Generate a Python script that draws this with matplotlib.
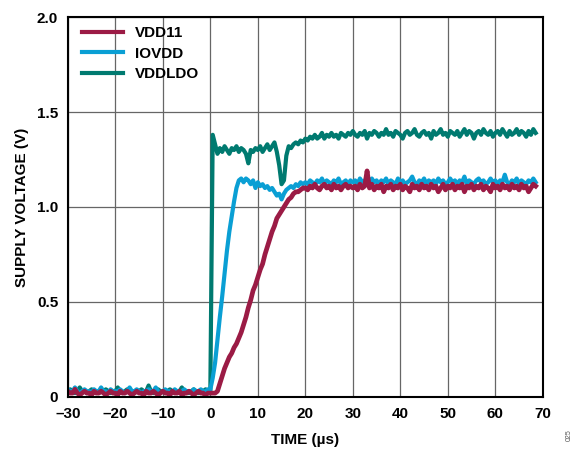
import numpy as np
import matplotlib
matplotlib.use("Agg")
import matplotlib.pyplot as plt

# sample times, 0.5 us steps from -30 to 68.5
time_us = np.arange(-30, 69, 0.5)

# VDDLDO (teal)
vddldo = [
    # -30 .. -0.5
    0.03, 0.04, 0.03, 0.02, 0.03, 0.05, 0.03, 0.03, 0.02, 0.03,
    0.04, 0.03, 0.03, 0.02, 0.03, 0.03, 0.04, 0.03, 0.02, 0.03,
    0.03, 0.05, 0.03, 0.02, 0.03, 0.04, 0.03, 0.03, 0.02, 0.03,
    0.03, 0.04, 0.03, 0.03, 0.06, 0.03, 0.02, 0.03, 0.04, 0.03,
    0.03, 0.02, 0.03, 0.04, 0.03, 0.03, 0.02, 0.03, 0.05, 0.03,
    0.03, 0.02, 0.03, 0.04, 0.03, 0.02, 0.03, 0.03, 0.04, 0.03,
    # 0 .. 20
    0.03, 1.38, 1.33, 1.28, 1.31, 1.29, 1.32, 1.30, 1.28, 1.31,
    1.30, 1.32, 1.29, 1.31, 1.30, 1.28, 1.23, 1.30, 1.29, 1.31,
    1.30, 1.32, 1.29, 1.31, 1.33, 1.30, 1.32, 1.34, 1.29, 1.22,
    1.12, 1.14, 1.27, 1.32, 1.31, 1.33, 1.34, 1.33, 1.35, 1.34,
    1.36,
    # 20.5 .. 30
    1.35, 1.37, 1.36, 1.38, 1.36, 1.37, 1.39, 1.36, 1.38, 1.37,
    1.39, 1.37, 1.38, 1.36, 1.39, 1.38, 1.37, 1.39, 1.38, 1.40,
    # 30.5 .. 68.5
    1.38, 1.37, 1.39, 1.38, 1.40, 1.36, 1.39, 1.38, 1.40, 1.39,
    1.37, 1.39, 1.38, 1.41, 1.38, 1.39, 1.37, 1.40, 1.39, 1.38,
    1.36, 1.39, 1.40, 1.38, 1.39, 1.41, 1.38, 1.37, 1.39, 1.40,
    1.38, 1.39, 1.36, 1.40, 1.38, 1.39, 1.41, 1.38, 1.39, 1.37,
    1.40, 1.39, 1.38, 1.40, 1.37, 1.39, 1.41, 1.38, 1.40, 1.39,
    1.36, 1.39, 1.40, 1.38, 1.41, 1.39, 1.38, 1.40, 1.37, 1.39,
    1.40, 1.38, 1.41, 1.39, 1.37, 1.40, 1.38, 1.39, 1.41, 1.38,
    1.40, 1.39, 1.37, 1.40, 1.38, 1.41, 1.39,
]

# IOVDD (blue)
iovdd = [
    0.04, 0.03, 0.03, 0.05, 0.03, 0.02, 0.03, 0.04, 0.03, 0.03,
    0.02, 0.04, 0.03, 0.03, 0.05, 0.03, 0.03, 0.02, 0.04, 0.03,
    0.03, 0.03, 0.04, 0.03, 0.02, 0.03, 0.05, 0.03, 0.03, 0.04,
    0.03, 0.02, 0.03, 0.03, 0.04, 0.03, 0.03, 0.05, 0.03, 0.02,
    0.03, 0.04, 0.03, 0.03, 0.02, 0.04, 0.03, 0.03, 0.03, 0.04,
    0.03, 0.03, 0.02, 0.04, 0.03, 0.03, 0.04, 0.03, 0.03, 0.04,
    0.04, 0.10, 0.18, 0.30, 0.42, 0.53, 0.65, 0.77, 0.87, 0.95,
    1.03, 1.10, 1.14, 1.15, 1.13, 1.15, 1.14, 1.12, 1.14, 1.10,
    1.13, 1.11, 1.12, 1.10, 1.11, 1.09, 1.10, 1.08, 1.06, 1.07,
    1.04, 1.07, 1.09, 1.10, 1.11, 1.10, 1.12, 1.11, 1.13, 1.12,
    1.13,
    1.12, 1.14, 1.13, 1.12, 1.14, 1.13, 1.15, 1.12, 1.14, 1.13,
    1.12, 1.14, 1.13, 1.15, 1.12, 1.13, 1.14, 1.12, 1.14, 1.13,
    1.14, 1.12, 1.15, 1.13, 1.14, 1.12, 1.13, 1.15, 1.13, 1.14,
    1.12, 1.14, 1.13, 1.15, 1.12, 1.14, 1.13, 1.12, 1.15, 1.13,
    1.14, 1.12, 1.13, 1.14, 1.16, 1.13, 1.12, 1.14, 1.13, 1.15,
    1.12, 1.14, 1.13, 1.14, 1.12, 1.15, 1.13, 1.14, 1.12, 1.13,
    1.15, 1.13, 1.14, 1.12, 1.14, 1.13, 1.16, 1.12, 1.14, 1.13,
    1.12, 1.14, 1.15, 1.13, 1.14, 1.12, 1.13, 1.15, 1.13, 1.14,
    1.12, 1.14, 1.13, 1.17, 1.13, 1.12, 1.14, 1.13, 1.15, 1.12,
    1.14, 1.13, 1.12, 1.14, 1.13, 1.15, 1.13,
]

# VDD11 (crimson)
vdd11 = [
    0.03, 0.02, 0.02, 0.04, 0.02, 0.01, 0.02, 0.03, 0.02, 0.02,
    0.01, 0.03, 0.02, 0.02, 0.03, 0.02, 0.01, 0.02, 0.03, 0.02,
    0.02, 0.01, 0.03, 0.02, 0.02, 0.03, 0.02, 0.01, 0.02, 0.03,
    0.02, 0.02, 0.01, 0.03, 0.02, 0.02, 0.03, 0.02, 0.01, 0.02,
    0.03, 0.02, 0.02, 0.01, 0.03, 0.02, 0.02, 0.03, 0.01, 0.02,
    0.02, 0.03, 0.02, 0.01, 0.02, 0.03, 0.02, 0.02, 0.01, 0.02,
    0.02, 0.02, 0.02, 0.03, 0.07, 0.11, 0.15, 0.18, 0.21, 0.23,
    0.26, 0.28, 0.31, 0.34, 0.38, 0.42, 0.47, 0.51, 0.56, 0.59,
    0.63, 0.67, 0.70, 0.75, 0.79, 0.83, 0.87, 0.90, 0.94, 0.96,
    0.98, 1.00, 1.02, 1.04, 1.05, 1.07, 1.08, 1.08, 1.09, 1.10,
    1.10,
    1.09, 1.11, 1.10, 1.12, 1.10, 1.09, 1.11, 1.12, 1.10, 1.11,
    1.09, 1.12, 1.10, 1.11, 1.09, 1.11, 1.12, 1.10, 1.11, 1.10,
    1.11, 1.09, 1.12, 1.10, 1.11, 1.19, 1.10, 1.12, 1.09, 1.11,
    1.10, 1.12, 1.08, 1.11, 1.10, 1.12, 1.09, 1.11, 1.10, 1.12,
    1.09, 1.11, 1.10, 1.08, 1.12, 1.10, 1.11, 1.09, 1.12, 1.10,
    1.11, 1.09, 1.12, 1.10, 1.11, 1.08, 1.10, 1.12, 1.09, 1.11,
    1.10, 1.12, 1.09, 1.11, 1.10, 1.12, 1.08, 1.11, 1.10, 1.12,
    1.09, 1.11, 1.10, 1.12, 1.09, 1.11, 1.10, 1.08, 1.12, 1.10,
    1.11, 1.09, 1.12, 1.10, 1.11, 1.09, 1.12, 1.10, 1.11, 1.09,
    1.12, 1.10, 1.11, 1.08, 1.10, 1.12, 1.11,
]

x_ticks = [-30, -20, -10, 0, 10, 20, 30, 40, 50, 60, 70]
x_labels = ["–30", "–20", "–10", "0", "10", "20", "30", "40", "50", "60", "70"]
y_ticks = [0, 0.5, 1.0, 1.5, 2.0]
y_labels = ["0", "0.5", "1.0", "1.5", "2.0"]

plt.rcParams['font.family'] = ['Liberation Sans', 'DejaVu Sans']

fig = plt.figure(figsize=(5.75, 4.49), dpi=100)
ax = fig.add_axes([0.118, 0.116, 0.826, 0.846])

ax.plot(time_us, vddldo, color='#007A70', lw=3, label='VDDLDO', zorder=3)
ax.plot(time_us, iovdd, color='#0A9FD4', lw=3, label='IOVDD', zorder=4)
ax.plot(time_us, vdd11, color='#9B1B45', lw=3.4, label='VDD11', zorder=5)

ax.set_xlim(-30, 70)
ax.set_ylim(0, 2.0)
ax.set_xticks(x_ticks)
ax.set_xticklabels(x_labels)
ax.set_yticks(y_ticks)
ax.set_yticklabels(y_labels)
ax.tick_params(length=0, pad=7, labelsize=11)
for lbl in ax.get_xticklabels() + ax.get_yticklabels():
    lbl.set_fontweight('bold')

ax.grid(True, color='#666666', lw=0.9)
for s in ax.spines.values():
    s.set_linewidth(1.5)
    s.set_color('black')
    s.set_zorder(6)

ax.set_xlabel('TIME (µs)', fontsize=11, fontweight='bold', labelpad=9)
ax.set_ylabel('SUPPLY VOLTAGE (V)', fontsize=11, fontweight='bold', labelpad=6)

handles, labels = ax.get_legend_handles_labels()
order = [2, 1, 0]
leg = ax.legend([handles[i] for i in order], [labels[i] for i in order],
                loc='upper left', bbox_to_anchor=(0.0, 1.012), frameon=False,
                handlelength=2.7, handletextpad=0.8, labelspacing=0.42,
                prop={'size': 11, 'weight': 'bold'})
for h in leg.legend_handles:
    h.set_linewidth(3)

fig.text(0.99, 0.03, '025', rotation=90, fontsize=5, color='#555555',
         ha='center', va='center')

fig.savefig('out.png', dpi=100)
